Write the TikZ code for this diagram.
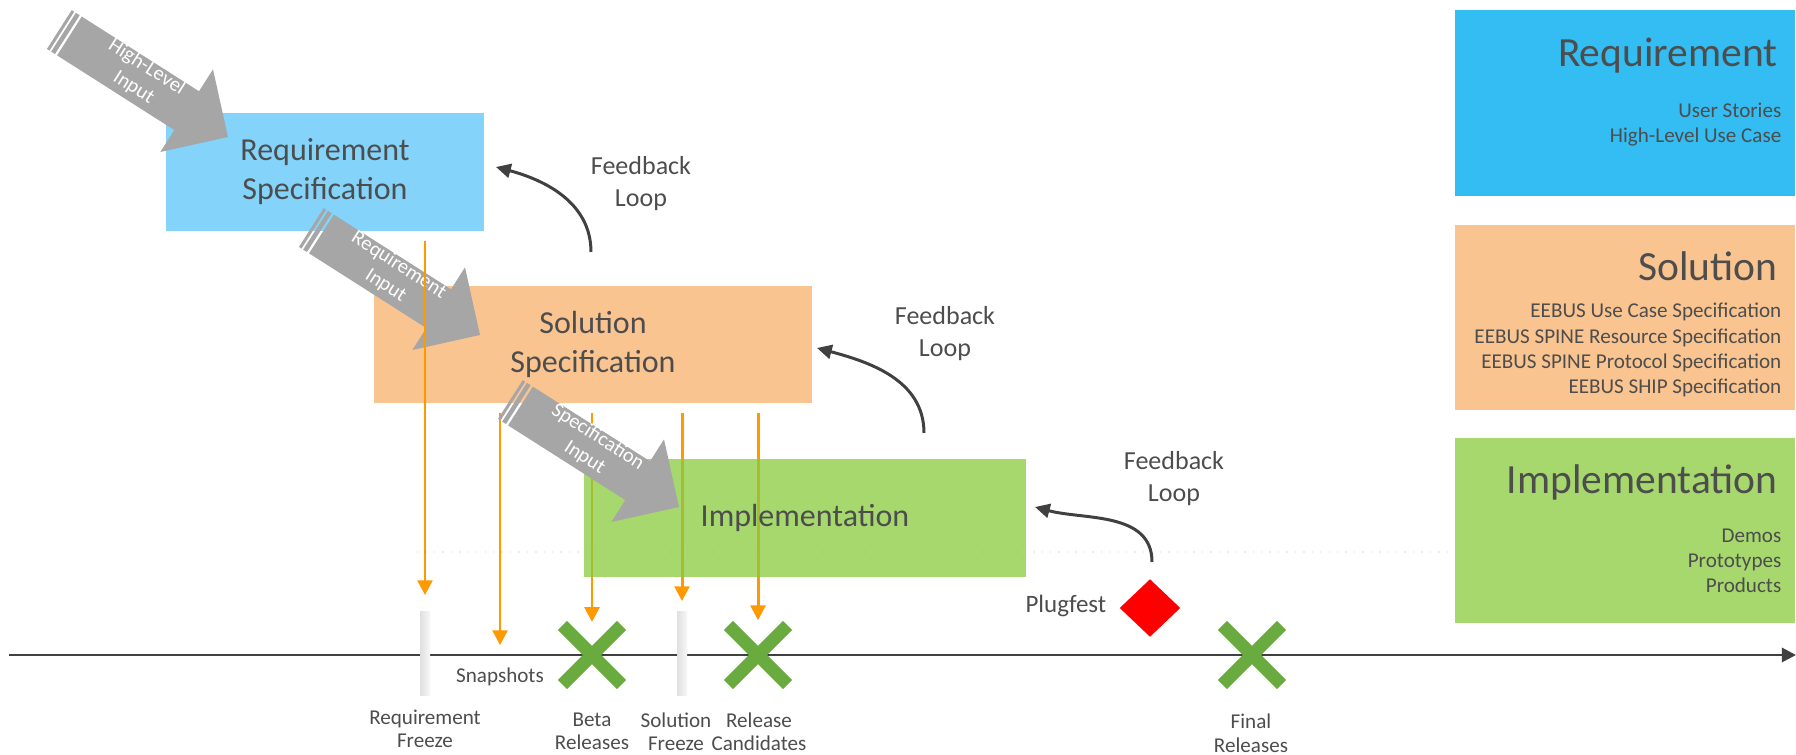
\documentclass[tikz,border=0pt]{standalone}
\usepackage{fontspec}
\setmainfont{Carlito}
\usetikzlibrary{arrows.meta,shapes.geometric,shapes.misc}

\definecolor{reqlight}{HTML}{83D3FB}
\definecolor{reqblue}{HTML}{33BDF2}
\definecolor{solorange}{HTML}{FAC491}
\definecolor{implgreen}{HTML}{A6D86E}
\definecolor{impldeep}{HTML}{88CB3E}
\definecolor{arrowgray}{HTML}{A6A6A6}
\definecolor{textgray}{HTML}{4D4D4D}
\definecolor{freezeorange}{HTML}{FF9900}
\definecolor{crossgreen}{HTML}{6AAB40}
\definecolor{linegray}{HTML}{404040}

\tikzset{
  phase/.style={rectangle, inner sep=0pt, text=textgray, align=center,
    font=\fontsize{9.1}{11.1}\selectfont},
  legendbox/.style={rectangle, inner sep=0pt, minimum width=3.4cm, minimum height=1.85cm},
  legendtitle/.style={text=textgray, inner sep=0pt, font=\fontsize{11.8}{14}\selectfont},
  legendtext/.style={text=textgray, inner sep=0pt, align=right, font=\fontsize{6}{7.25}\selectfont},
  tltext/.style={text=textgray, inner sep=0pt, align=center, font=\fontsize{6}{6.8}\selectfont},
  fbtext/.style={text=textgray, inner sep=0pt, align=center, font=\fontsize{7.4}{9.1}\selectfont},
  feedback/.style={linegray, line width=0.85pt, -{Triangle[length=4.2pt,width=4pt]}},
  freezearrow/.style={freezeorange, line width=0.85pt, shorten <=2.5pt, -{Triangle[length=4.2pt,width=4.2pt]}},
  freezebar/.style={rectangle, inner sep=0pt, outer sep=0pt, minimum width=0.1cm, minimum height=0.83cm,
    left color=gray!25, right color=gray!6},
  release/.style={cross out, draw=crossgreen, line width=3.7pt, minimum size=0.59cm, inner sep=0pt, outer sep=0pt},
  arrowtext/.style={text=white, inner sep=0pt, align=center, font=\fontsize{5.8}{6.9}\selectfont},
}

% striped block arrow: #1 tip, #2 and #3 the two lines of its text
\newcommand{\inputarrow}[3]{%
  \begin{scope}[shift={#1}, rotate=-32.5]
    \fill[arrowgray] (-200,-23) rectangle (-197,23);
    \fill[arrowgray] (-195,-23) rectangle (-190.5,23);
    \fill[arrowgray] (-188,-23) -- (-49,-23) -- (-49,-49) -- (0,0) -- (-49,49) -- (-49,23) -- (-188,23) -- cycle;
    \node[arrowtext, rotate=-32.5] at (-106,3) {#2\\#3};
  \end{scope}}

\begin{document}
\begin{tikzpicture}[x=0.01cm, y=0.01cm]
  \useasboundingbox (0,0) rectangle (1796,-755);

  \draw[gray!15, dotted] (417,-552) -- (1455,-552);

  % phases
  \node[phase, fill=reqlight, minimum width=3.18cm, minimum height=1.18cm] (req) at (325,-172) {Requirement\\Specification};
  \node[phase, fill=solorange, minimum width=4.38cm, minimum height=1.17cm] (sol) at (593,-344.5) {Solution\\Specification};

  \inputarrow{(228,-137)}{High-Level}{Input}
  \inputarrow{(480,-335)}{Requirement}{Input}

  % timeline
  \coordinate (tlstart) at (9,-655);
  \coordinate (tlend) at (1796,-655);
  \draw[linegray, line width=0.8pt, -{Triangle[length=4pt,width=4pt]}] (tlstart) -- (tlend);

  \node[freezebar] (rfreeze) at (425,-653.5) {};
  \node[freezebar] (sfreeze) at (682,-653.5) {};
  \coordinate (snap) at (500,-655);
  \node[release] (beta) at (592,-655) {};
  \node[release] (rc) at (758,-655) {};
  \node[release] (final) at (1252,-655) {};
  \node[diamond, fill=red, inner sep=0pt, minimum width=0.61cm, minimum height=0.58cm] (plug) at (1150,-608) {};

  \draw[freezearrow, shorten >=4.8pt] (req.south -| rfreeze) -- (rfreeze.north);
  \draw[freezearrow, shorten >=2.8pt] (sol.south -| snap) -- (snap);
  \draw[freezearrow, shorten >=1pt] (sol.south -| beta) -- (beta.north);
  \draw[freezearrow, shorten >=3.1pt] (sol.south -| sfreeze) -- (sfreeze.north);
  \draw[freezearrow, shorten >=1.5pt] (sol.south -| rc) -- (rc.north);

  \node[phase, fill=impldeep, fill opacity=0.75, text opacity=1, minimum width=4.42cm, minimum height=1.18cm] (impl) at (805,-518) {Implementation};

  \inputarrow{(679,-507)}{Specification}{Input}

  % labels on the timeline
  \node[tltext, anchor=base] (rfreezetext) at (425,-748) {Requirement\\Freeze};
  \node[tltext, anchor=base] (snaptext) at (500,-683) {Snapshots};
  \node[tltext, anchor=base] (betatext) at (592,-750) {Beta\\Releases};
  \node[tltext, anchor=base] (sfreezetext) at (676,-751) {Solution\\Freeze};
  \node[tltext, anchor=base] (rctext) at (759,-751) {Release\\Candidates};
  \node[tltext, anchor=base] (finaltext) at (1251,-752) {Final\\Releases};
  \node[text=textgray, inner sep=0pt, anchor=base east, font=\fontsize{7.1}{8.5}\selectfont] (plugtext) at (1107,-613) {Plugfest};

  % feedback loops
  \coordinate (fb1s) at (591,-252);
  \coordinate (fb1e) at (496,-167);
  \coordinate (fb2s) at (924,-433);
  \coordinate (fb2e) at (817,-348);
  \coordinate (fb3s) at (1152,-562);
  \coordinate (fb3e) at (1035,-507);
  \draw[feedback] (fb1s) to[out=90, in=-15] (fb1e);
  \draw[feedback] (fb2s) to[out=90, in=-15] (fb2e);
  \draw[feedback] (fb3s) to[out=90, in=-15] (fb3e);
  \node[fbtext, anchor=base] (fb1text) at (641,-207) {Feedback\\Loop};
  \node[fbtext, anchor=base] (fb2text) at (945,-357) {Feedback\\Loop};
  \node[fbtext, anchor=base] (fb3text) at (1174,-502) {Feedback\\Loop};

  % legend on the right
  \node[legendbox, fill=reqblue] (lreq) at (1625,-103) {};
  \node[legendbox, fill=solorange] (lsol) at (1625,-317.5) {};
  \node[legendbox, fill=implgreen] (limpl) at (1625,-530.5) {};
  \node[legendtitle, anchor=base east] (lreqtitle) at (1778,-67) {Requirement};
  \node[legendtext, anchor=base east] (lreqtext) at (1782,-143) {User Stories\\High-Level Use Case};
  \node[legendtitle, anchor=base east] (lsoltitle) at (1778,-281) {Solution};
  \node[legendtext, anchor=base east] (lsoltext) at (1782,-394) {EEBUS Use Case Specification\\EEBUS SPINE Resource Specification\\EEBUS SPINE Protocol Specification\\EEBUS SHIP Specification};
  \node[legendtitle, anchor=base east] (limpltitle) at (1778,-494) {Implementation};
  \node[legendtext, anchor=base east] (limpltext) at (1782,-593) {Demos\\Prototypes\\Products};
\end{tikzpicture}
\end{document}
